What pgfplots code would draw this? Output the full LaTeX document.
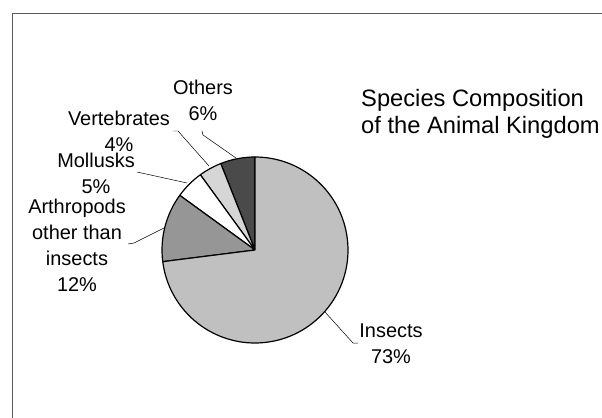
\documentclass[border=0pt]{standalone}
\usepackage{pgfplots}
\pgfplotsset{compat=1.18}
\usepackage{pgfplotstable}
\usepackage{fontspec}
\setmainfont{Liberation Sans}
\definecolor{cOthers}{HTML}{4A4A4A}
\definecolor{cVert}{HTML}{D6D6D6}
\definecolor{cMoll}{HTML}{FFFFFF}
\definecolor{cArth}{HTML}{969696}
\definecolor{cIns}{HTML}{C0C0C0}
\pgfplotstableread[col sep=comma]{
name,value,color
Others,6,cOthers
Vertebrates,4,cVert
Mollusks,5,cMoll
Arthropods,12,cArth
Insects,73,cIns
}\piedata
\newcommand{\lab}{\fontsize{20}{26}\selectfont}
\begin{document}
\begin{tikzpicture}
\begin{axis}[
  scale only axis, width=602bp, height=418bp,
  xmin=0, xmax=602, ymin=0, ymax=418, y dir=reverse,
  hide axis, clip=false]
\def\cum{0}
\pgfplotsforeachungrouped \i in {0,...,4}{%
  \pgfplotstablegetelem{\i}{value}\of\piedata \let\v\pgfplotsretval
  \pgfplotstablegetelem{\i}{color}\of\piedata \let\c\pgfplotsretval
  \pgfmathsetmacro\a{90+3.6*\cum}%
  \pgfmathsetmacro\b{90+3.6*(\cum+\v)}%
  \edef\tmp{\noexpand\filldraw[fill=\c, draw=black, line width=1.2pt, line join=round]
    (axis cs:255,250) -- ++(\a:93bp) arc[start angle=\a, end angle=\b, radius=93bp] -- cycle;}%
  \tmp
  \pgfmathsetmacro\cum{\cum+\v}%
}
% frame
\draw[black!65, line width=1pt] (axis cs:12,418) -- (axis cs:12,13) -- (axis cs:602,13);
% leader lines
\draw[black, line width=0.5pt] (axis cs:202,131) -- (axis cs:203,135) -- (axis cs:236,158);
\draw[black, line width=0.5pt] (axis cs:173,131) -- (axis cs:178,131) -- (axis cs:209,166);
\draw[black, line width=0.5pt] (axis cs:137,172) -- (axis cs:187,183);
\draw[black, line width=0.5pt] (axis cs:128,244) -- (axis cs:134,243) -- (axis cs:164,228);
\draw[black, line width=0.5pt] (axis cs:325,312) -- (axis cs:353,343) -- (axis cs:358,343);
% labels
\node[align=center, font=\lab, inner sep=0pt] at (axis cs:203,100) {Others\\6\%};
\node[align=center, font=\lab, inner sep=0pt] at (axis cs:119,131) {Vertebrates\\4\%};
\node[align=center, font=\lab, inner sep=0pt] at (axis cs:96,173) {Mollusks\\5\%};
\node[align=center, font=\lab, inner sep=0pt] at (axis cs:77,245) {Arthropods\\other than\\insects\\12\%};
\node[align=center, font=\lab, inner sep=0pt] at (axis cs:391,344) {Insects\\73\%};
\node[align=left, anchor=west, inner sep=0pt, font=\fontsize{23.8}{27}\selectfont] at (axis cs:361,114) {Species Composition\\of the Animal Kingdom};
\end{axis}
\pgfresetboundingbox
\path (current axis.south west) rectangle (current axis.north east);
\end{tikzpicture}
\end{document}
